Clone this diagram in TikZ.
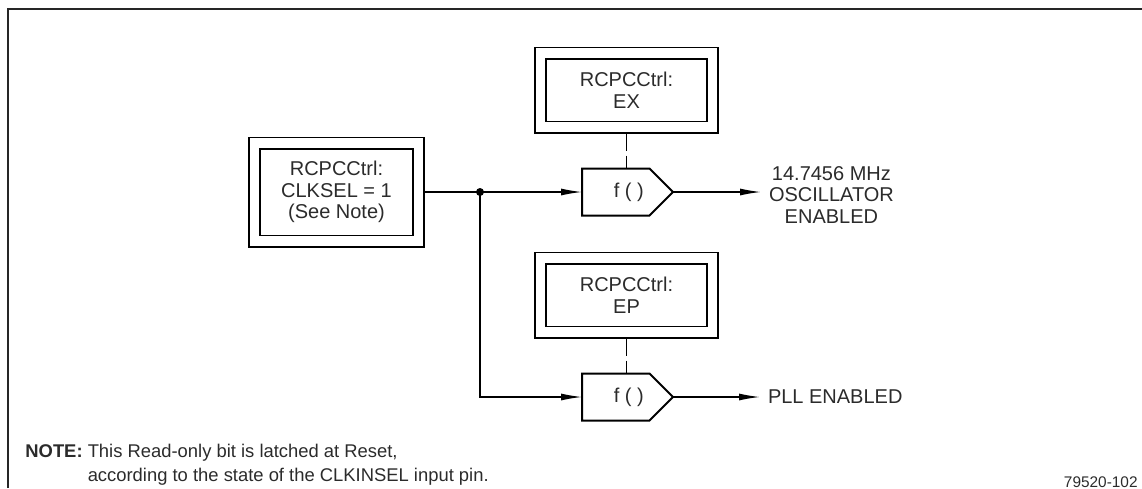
\documentclass[tikz,border=0pt]{standalone}
\usepackage{fontspec}
\setsansfont{Liberation Sans}
\usetikzlibrary{arrows.meta,calc,positioning,shapes.symbols}
\definecolor{inkgray}{HTML}{2B2B2B}
\newcommand{\funclabel}{\hspace*{13pt}\makebox[0pt]{f ( )}}

\begin{document}
\begin{tikzpicture}[x=0.5pt, y=-0.5pt,
  font=\sffamily\fontsize{10}{10.9}\selectfont, text=inkgray,
  regbox/.style={draw=black, line width=0.9pt, double=white,
    double distance=4.7pt, align=center, inner sep=0pt, outer sep=3.25pt},
  selbox/.style={regbox, minimum width=82pt, minimum height=49pt},
  ctrlbox/.style={regbox, minimum width=86pt, minimum height=37pt},
  funcbox/.style={draw=black, line width=1pt, signal, signal to=east,
    signal pointer angle=90, minimum width=45.5pt, minimum height=23.5pt,
    inner sep=0pt, outer sep=0pt, anchor=west},
  outlabel/.style={align=center, inner sep=4pt, outer sep=0pt},
  flow/.style={-{Latex[length=10.5pt, width=3.5pt]}, line width=0.65pt, draw=black},
  link/.style={line width=0.65pt, draw=black},
  enable/.style={line width=0.65pt, draw=black, dash pattern=on 8.5pt off 2.5pt},
]
  \useasboundingbox (0,0) rectangle (1142,488);
  \draw[line width=0.7pt, black!85] (8,488) -- (8,9) -- (1142,9);

  \node[selbox] (clksel) at (336.5,192)
    {RCPCCtrl:\\CLKSEL = 1\\(See Note)};
  \node[funcbox] (fx) at (582,192) {\funclabel};
  \node[funcbox] (fp) at (582,397) {\funclabel};
  \node[ctrlbox] (ex) at (626.5,90) {RCPCCtrl:\\EX};
  \node[ctrlbox] (ep) at (626.5,295) {RCPCCtrl:\\EP};
  \node[outlabel, right=44pt of fx, yshift=-1.5pt] (osc)
    {14.7456 MHz\\OSCILLATOR\\ENABLED};
  \node[outlabel, right=43.5pt of fp] (pll) {PLL ENABLED};
  \coordinate[right=27.5pt of clksel] (split);

  \draw[link] (clksel.east) -- (split);
  \draw[flow] (split) -- (fx.west);
  \draw[flow] (split) |- (fp.west);
  \fill[black] (split) circle (2pt);
  \draw[enable] (ex.south) -- (ex.south |- fx.north);
  \draw[enable] (ep.south) -- (ep.south |- fp.north);
  \draw[flow] (fx.east) -- (fx.east -| osc.west);
  \draw[flow] (fp.east) -- (pll.west);

  \node[anchor=west, inner sep=0pt, align=left,
    font=\sffamily\fontsize{9.2}{12}\selectfont] (note) at (25,465)
    {\textbf{NOTE:} This Read-only bit is latched at Reset,\\
    \hphantom{\textbf{NOTE:} }according to the state of the CLKINSEL input pin.};
  \node[anchor=east, inner sep=0pt, font=\sffamily\fontsize{7.7}{9}\selectfont]
    (fignum) at (1138,482) {79520-102};
\end{tikzpicture}
\end{document}
